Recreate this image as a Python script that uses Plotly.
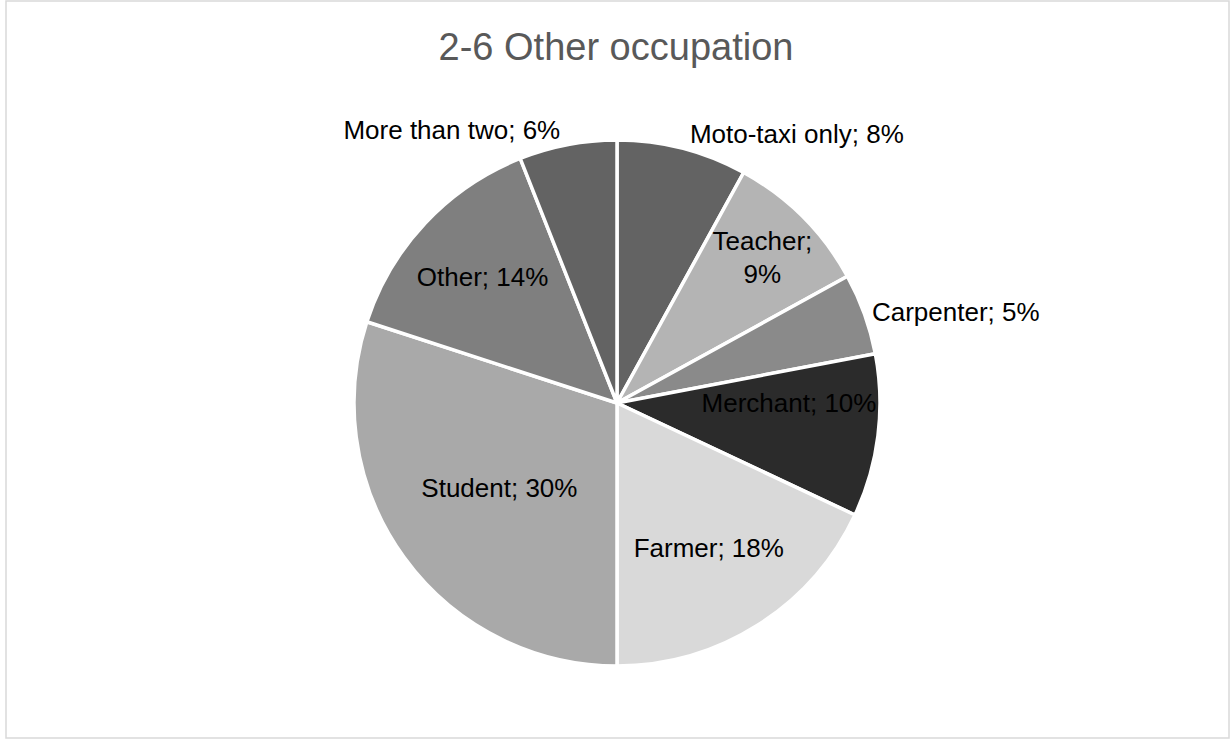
import plotly.graph_objects as go

categories = ["Moto-taxi only", "Teacher", "Carpenter", "Merchant", "Farmer", "Student", "Other", "More than two"]
values = [8, 9, 5, 10, 18, 30, 14, 6]
label_texts = ["Moto-taxi only; 8%", "Teacher;<br>9%", "Carpenter; 5%", "Merchant; 10%",
               "Farmer; 18%", "Student; 30%", "Other; 14%", "More than two; 6%"]
colors = ["#636363", "#b4b4b4", "#8a8a8a", "#2b2b2b", "#d9d9d9", "#a9a9a9", "#7f7f7f", "#636363"]
positions = ["outside", "inside", "outside", "inside", "inside", "inside", "inside", "outside"]

W, H = 1232, 742
cx, cy, r = 617, 403, 263
FONT = "Liberation Sans, Arial, sans-serif"

fig = go.Figure(go.Pie(
    labels=categories,
    values=values,
    text=label_texts,
    textinfo="text",
    textposition=positions,
    insidetextorientation="horizontal",
    sort=False,
    direction="clockwise",
    rotation=0,
    marker=dict(colors=colors, line=dict(color="white", width=3.5)),
    textfont=dict(family=FONT, size=26, color="black"),
    insidetextfont=dict(family=FONT, size=26, color="black"),
    outsidetextfont=dict(family=FONT, size=26, color="black"),
    domain=dict(x=[(cx - r) / W, (cx + r) / W], y=[(H - cy - r) / H, (H - cy + r) / H]),
    showlegend=False,
    hoverinfo="label+percent",
))

fig.update_layout(
    width=W, height=H,
    margin=dict(l=0, r=0, t=0, b=0),
    paper_bgcolor="white",
    title=dict(text="2-6 Other occupation", x=0.5, xanchor="center", y=1 - 47 / H, yanchor="middle",
               font=dict(family=FONT, size=38, color="#595959")),
    shapes=[dict(type="rect", xref="paper", yref="paper",
                 x0=6 / W, x1=1229 / W, y0=1 - 738 / H, y1=1 - 1 / H,
                 line=dict(color="#d9d9d9", width=1.5), fillcolor="rgba(0,0,0,0)")],
    uniformtext=dict(minsize=26, mode="show"),
)

fig.write_html("out.html", config={"displayModeBar": False},
               post_script="document.body.style.margin='0';document.body.style.overflow='hidden';")
